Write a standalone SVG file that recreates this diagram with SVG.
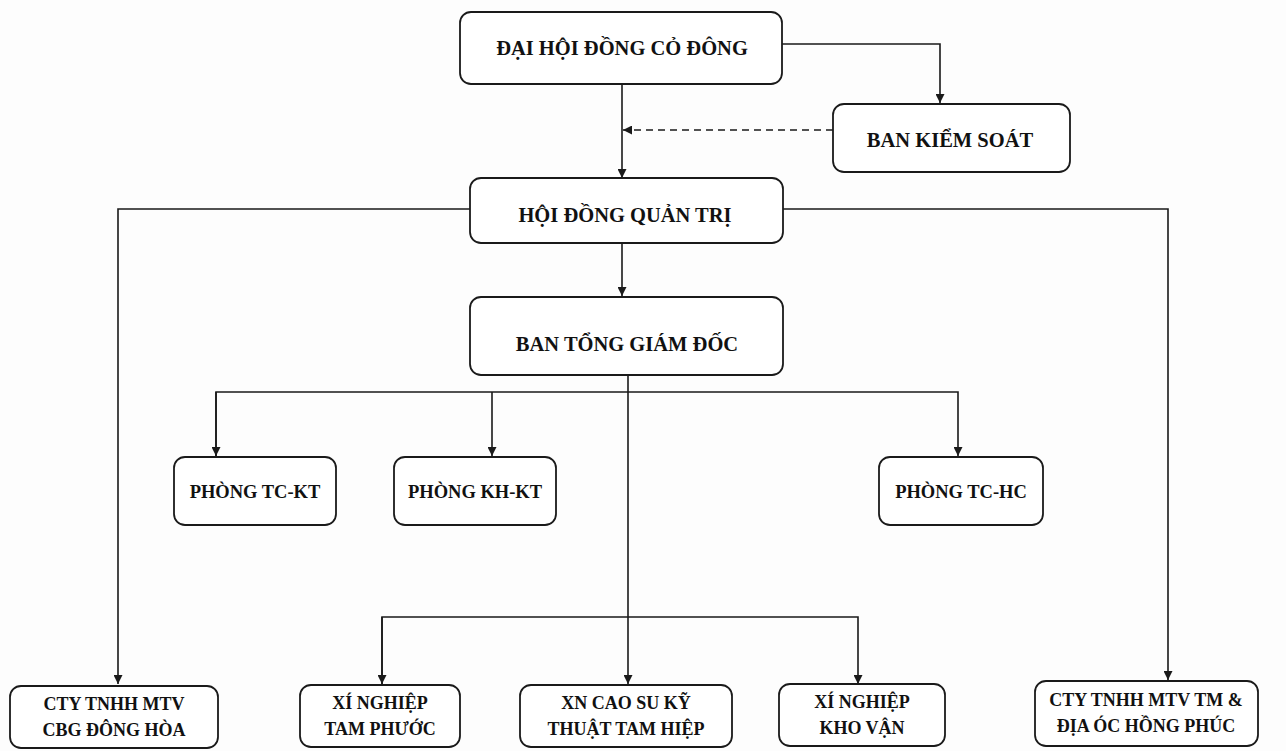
<svg xmlns="http://www.w3.org/2000/svg" width="1286" height="751" viewBox="0 0 1286 751">
<style>
.box{fill:#fff;stroke:#1a1a1a;stroke-width:1.8}
.t{font-family:"Liberation Serif","Times New Roman",serif;font-weight:bold;font-size:18px;fill:#111;text-anchor:middle}
.tl{font-size:20.5px}
.tm{font-size:18.5px}
.c{fill:none;stroke:#1a1a1a;stroke-width:1.6}
.d{stroke-dasharray:7 5}
</style>
<defs>
<marker id="ah" viewBox="0 0 10 10" refX="10" refY="5" markerWidth="9" markerHeight="9" markerUnits="userSpaceOnUse" orient="auto">
<path d="M0,0 L10,5 L0,10 z" fill="#1a1a1a"/>
</marker>
</defs>
<rect width="1286" height="751" fill="#fdfdfd"/>
<g id="connectors">
<path class="c" d="M782,44 H940 V103" marker-end="url(#ah)"/>
<path class="c" d="M622,84 V178" marker-end="url(#ah)"/>
<path class="c d" d="M833,130 H623" marker-end="url(#ah)"/>
<path class="c" d="M470,209 H118 V684" marker-end="url(#ah)"/>
<path class="c" d="M783,209 H1168 V680" marker-end="url(#ah)"/>
<path class="c" d="M622,243 V296" marker-end="url(#ah)"/>
<path class="c" d="M628,375 V684" marker-end="url(#ah)"/>
<path class="c" d="M216,456 V392 H958 V456" marker-end="url(#ah)"/>
<path class="c" d="M216,392 V456" marker-end="url(#ah)"/>
<path class="c" d="M492,392 V456" marker-end="url(#ah)"/>
<path class="c" d="M382,684 V617 H858 V684" marker-end="url(#ah)"/>
<path class="c" d="M382,617 V684" marker-end="url(#ah)"/>
</g>
<g id="dhdcd"><rect class="box" x="460" y="12" width="322" height="72" rx="11"/><text class="t tl" x="622" y="55">ĐẠI HỘI ĐỒNG CỎ ĐÔNG</text></g>
<g id="bks"><rect class="box" x="833" y="104" width="237" height="68" rx="11"/><text class="t tl" x="950" y="147">BAN KIỂM SOÁT</text></g>
<g id="hdqt"><rect class="box" x="470" y="178" width="313" height="65" rx="11"/><text class="t tl" x="625" y="222">HỘI ĐỒNG QUẢN TRỊ</text></g>
<g id="btgd"><rect class="box" x="470" y="297" width="313" height="78" rx="11"/><text class="t tl" x="627" y="351">BAN TỔNG GIÁM ĐỐC</text></g>
<g id="tckt"><rect class="box" x="174" y="457" width="162" height="68" rx="11"/><text class="t tm" x="255" y="498">PHÒNG TC-KT</text></g>
<g id="khkt"><rect class="box" x="394" y="457" width="162" height="68" rx="11"/><text class="t tm" x="475" y="498">PHÒNG KH-KT</text></g>
<g id="tchc"><rect class="box" x="879" y="457" width="164" height="68" rx="11"/><text class="t tm" x="961" y="498">PHÒNG TC-HC</text></g>
<g id="cbg"><rect class="box" x="10" y="686" width="208" height="62" rx="11"/><text class="t" x="114" y="710">CTY TNHH MTV</text><text class="t" x="114" y="736">CBG ĐÔNG HÒA</text></g>
<g id="tamphuoc"><rect class="box" x="300" y="685" width="160" height="62" rx="11"/><text class="t" x="380" y="709">XÍ NGHIỆP</text><text class="t" x="380" y="735">TAM PHƯỚC</text></g>
<g id="caosu"><rect class="box" x="520" y="685" width="212" height="62" rx="11"/><text class="t" x="626" y="709">XN CAO SU KỸ</text><text class="t" x="626" y="735">THUẬT TAM HIỆP</text></g>
<g id="khovan"><rect class="box" x="779" y="684" width="166" height="62" rx="11"/><text class="t" x="862" y="708">XÍ NGHIỆP</text><text class="t" x="862" y="734">KHO VẬN</text></g>
<g id="hongphuc"><rect class="box" x="1035" y="681" width="223" height="65" rx="11"/><text class="t" x="1146" y="706">CTY TNHH MTV TM &amp;</text><text class="t" x="1146" y="732">ĐỊA ÓC HỒNG PHÚC</text></g>
</svg>
